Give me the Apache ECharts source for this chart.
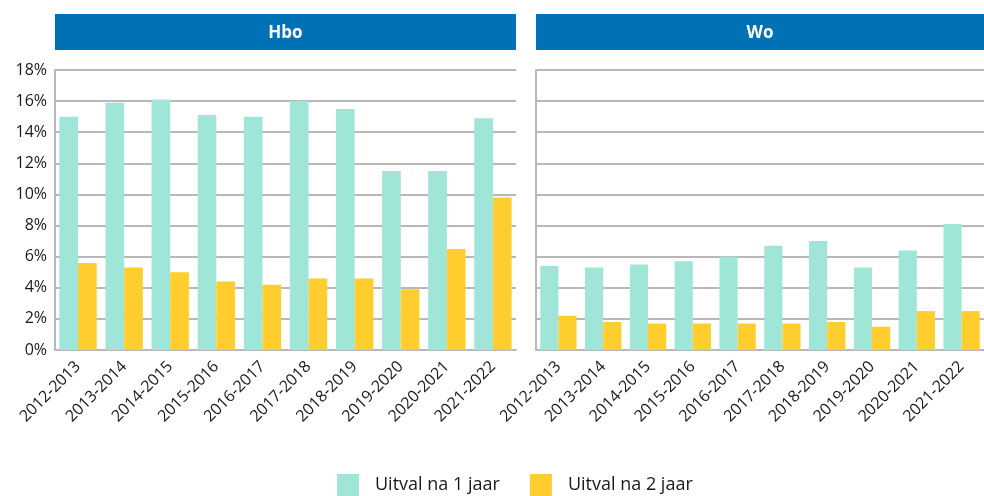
<!DOCTYPE html>
<html>
<head>
<meta charset="utf-8">
<script src="https://cdn.jsdelivr.net/npm/echarts@6/dist/echarts.min.js"></script>
<style>
  html, body { margin: 0; padding: 0; background: #fff; }
  #chart { width: 984px; height: 496px; }
</style>
</head>
<body>
<div id="chart"></div>
<script>
const categories = ['2012-2013', '2013-2014', '2014-2015', '2015-2016', '2016-2017',
  '2017-2018', '2018-2019', '2019-2020', '2020-2021', '2021-2022'];
const panels = ['Hbo', 'Wo'];
const seriesNames = ['Uitval na 1 jaar', 'Uitval na 2 jaar'];
const hbo1 = [15.0, 15.9, 16.1, 15.1, 15.0, 16.0, 15.5, 11.5, 11.5, 14.9];
const hbo2 = [5.6, 5.3, 5.0, 4.4, 4.2, 4.6, 4.6, 3.9, 6.5, 9.8];
const wo1 = [5.4, 5.3, 5.5, 5.7, 6.0, 6.7, 7.0, 5.3, 6.4, 8.1];
const wo2 = [2.2, 1.8, 1.7, 1.7, 1.7, 1.7, 1.8, 1.5, 2.5, 2.5];

const colors = ['#9fe6d8', '#ffce2e'];
const font = '"Open Sans", "Noto Sans", sans-serif';
const gridColor = '#b8b8b8';

const chart = echarts.init(document.getElementById('chart'));

const grids = [
  { left: 55, width: 461, top: 70, height: 280 },
  { left: 536, width: 448, top: 70, height: 280 }
];

const xAxes = grids.map((g, i) => ({
  type: 'category',
  gridIndex: i,
  data: categories,
  axisLine: { lineStyle: { color: gridColor, width: 2 } },
  axisTick: { show: false },
  axisLabel: {
    rotate: 45, color: '#1a1a1a', fontSize: 16, fontFamily: font,
    margin: 14, interval: 0
  }
}));

const yAxes = grids.map((g, i) => ({
  type: 'value',
  gridIndex: i,
  min: 0, max: 18, interval: 2,
  axisLine: { show: true, lineStyle: { color: gridColor, width: 2 } },
  axisTick: { show: false },
  splitLine: { lineStyle: { color: gridColor, width: 2 } },
  axisLabel: {
    show: i === 0, color: '#1a1a1a', fontSize: 16, fontFamily: font,
    margin: 8, formatter: '{value}%'
  }
}));

const data = [[hbo1, hbo2], [wo1, wo2]];
const series = [];
data.forEach((pair, gi) => {
  pair.forEach((vals, si) => {
    series.push({
      name: seriesNames[si],
      type: 'bar',
      xAxisIndex: gi,
      yAxisIndex: gi,
      data: vals,
      barGap: '0%',
      barCategoryGap: '19%',
      itemStyle: { color: colors[si] },
      silent: true
    });
  });
});

const headers = grids.map((g, i) => ({
  type: 'group',
  left: g.left,
  top: 14,
  children: [
    { type: 'rect', shape: { x: 0, y: 0, width: g.width, height: 36 },
      style: { fill: '#0071b5' } },
    { type: 'text', x: g.width / 2, y: 19,
      style: { text: panels[i], fill: '#fff', font: 'bold 17px ' + font,
        textAlign: 'center', textVerticalAlign: 'middle' } }
  ]
}));

chart.setOption({
  animation: false,
  grid: grids,
  xAxis: xAxes,
  yAxis: yAxes,
  series: series,
  graphic: headers,
  legend: {
    data: seriesNames,
    bottom: 0,
    left: 337,
    padding: 0,
    itemWidth: 22,
    itemHeight: 22,
    itemGap: 30,
    icon: 'rect',
    textStyle: { fontSize: 18, color: '#1a1a1a', fontFamily: font, padding: [0, 0, 0, 11] }
  }
});
</script>
</body>
</html>
